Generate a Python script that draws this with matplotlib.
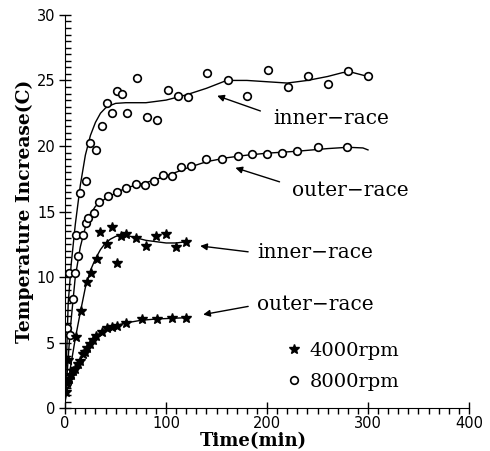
import numpy as np
import matplotlib.pyplot as plt
from matplotlib.lines import Line2D
from matplotlib.ticker import MultipleLocator

# 8000 rpm, inner race (measured points)
t_in8 = [2, 4, 11, 15, 21, 25, 31, 36, 41, 46, 51, 56, 61, 71, 81, 91, 102, 112, 122,
         141, 161, 180, 201, 221, 241, 260, 280, 300]
T_in8 = [6.1, 10.3, 13.2, 16.4, 17.3, 20.2, 19.7, 21.5, 23.3, 22.5, 24.2, 24.0, 22.5,
         25.2, 22.2, 22.0, 24.3, 23.8, 23.7, 25.6, 25.0, 23.8, 25.8, 24.5, 25.3, 24.7, 25.7, 25.3]
# 8000 rpm, outer race
t_out8 = [2, 5, 8, 10, 13, 18, 21, 23, 29, 34, 42, 51, 60, 70, 79, 88, 97, 106, 115, 125,
          140, 155, 171, 185, 200, 215, 230, 250, 279]
T_out8 = [1.9, 5.6, 8.3, 10.3, 11.6, 13.2, 14.1, 14.5, 14.9, 15.7, 16.2, 16.5, 16.8, 17.1,
          17.0, 17.3, 17.8, 17.7, 18.4, 18.5, 19.0, 19.0, 19.2, 19.4, 19.4, 19.5, 19.6, 19.9, 19.9]
# 4000 rpm, inner race
t_in4 = [3, 11, 16, 22, 26, 32, 35, 41, 46, 51, 55, 60, 70, 80, 90, 100, 110, 120]
T_in4 = [3.7, 5.4, 7.4, 9.6, 10.3, 11.4, 13.4, 12.5, 13.8, 11.1, 13.1, 13.3, 13.0, 12.4,
         13.1, 13.3, 12.3, 12.7]
# 4000 rpm, outer race
t_out4 = [1, 2, 4, 6, 8, 10, 13, 15, 18, 20, 22, 25, 28, 31, 36, 41, 46, 51, 60, 76, 91, 106, 120]
T_out4 = [1.2, 1.9, 2.2, 2.5, 2.8, 3.0, 3.4, 3.6, 4.1, 4.3, 4.6, 4.9, 5.2, 5.5, 5.8, 6.1,
          6.2, 6.3, 6.5, 6.8, 6.8, 6.9, 6.9]

# fitted curves
ct_in8 = [0, 3, 6, 10, 15, 20, 25, 30, 35, 40, 45, 50, 60, 80, 100, 120, 140, 160, 180,
          200, 220, 240, 260, 275, 285, 300]
cT_in8 = [0.5, 8.0, 11.0, 14.0, 17.0, 19.3, 20.8, 21.8, 22.5, 22.9, 23.1, 23.25, 23.3,
          23.3, 23.5, 23.9, 24.4, 25.0, 25.0, 24.9, 24.8, 25.0, 25.3, 25.6, 25.6, 25.3]
ct_out8 = [0, 5, 10, 15, 20, 25, 30, 40, 50, 60, 80, 100, 120, 140, 160, 180, 200, 230,
           260, 280, 295, 300]
cT_out8 = [0.5, 6.0, 10.0, 12.3, 13.8, 14.8, 15.4, 16.0, 16.4, 16.8, 17.2, 17.7, 18.3,
           18.8, 19.1, 19.3, 19.45, 19.6, 19.8, 19.9, 19.85, 19.7]
ct_in4 = [0, 5, 10, 15, 20, 25, 30, 35, 40, 45, 50, 55, 60, 70, 80, 90, 100, 110, 120]
cT_in4 = [0.5, 3.0, 5.3, 7.3, 9.2, 10.5, 11.4, 12.1, 12.6, 12.9, 13.1, 13.2, 13.2, 13.0,
          12.8, 12.7, 12.6, 12.6, 12.7]
ct_out4 = [0, 5, 10, 15, 20, 25, 30, 35, 40, 50, 60, 75, 90, 105, 120]
cT_out4 = [0.8, 2.2, 3.0, 3.7, 4.3, 4.9, 5.4, 5.8, 6.0, 6.3, 6.5, 6.7, 6.8, 6.85, 6.9]

SERIF = ['DejaVu Serif']

fig = plt.figure(figsize=(4.9, 4.51), dpi=100)
ax = fig.add_axes([0.133, 0.095, 0.824, 0.872])

for ct, cT in [(ct_in8, cT_in8), (ct_out8, cT_out8), (ct_in4, cT_in4), (ct_out4, cT_out4)]:
    ax.plot(ct, cT, color='black', lw=1.0)

circ = dict(marker='o', ms=5.5, mfc='white', mec='black', mew=1.2, ls='none')
star = dict(marker='*', ms=7.5, mfc='black', mec='black', ls='none')
ax.plot(t_in8, T_in8, **circ)
ax.plot(t_out8, T_out8, **circ)
ax.plot(t_in4, T_in4, **star)
ax.plot(t_out4, T_out4, **star)

ax.set_xlim(0, 400)
ax.set_ylim(0, 30)
ax.xaxis.set_major_locator(MultipleLocator(100))
ax.xaxis.set_minor_locator(MultipleLocator(10))
ax.yaxis.set_major_locator(MultipleLocator(5))
ax.yaxis.set_minor_locator(MultipleLocator(0.5))
ax.spines['top'].set_visible(False)
ax.spines['right'].set_visible(False)
ax.tick_params(axis='x', which='major', direction='inout', length=8, width=1, pad=2)
ax.tick_params(axis='x', which='minor', direction='out', length=4, width=1)
ax.tick_params(axis='y', which='major', direction='inout', length=8, width=1, pad=3)
ax.tick_params(axis='y', which='minor', direction='in', length=4, width=1)
ax.tick_params(labelsize=10.5)

ax.set_xlabel('Time(min)', family=SERIF, fontweight='bold', fontsize=13)
ax.set_ylabel('Temperature Increase(C)', family=SERIF, fontweight='bold', fontsize=13.5)
ax.xaxis.set_label_coords(0.465, -0.062)
ax.yaxis.set_label_coords(-0.078, 0.5)

arrow = dict(arrowstyle='-|>', color='black', lw=1.0, mutation_scale=10)
notes = [
    ('inner\u2212race', (148, 23.9), (196, 22.6), (206, 22.1)),
    ('outer\u2212race', (166, 18.4), (215, 17.2), (225, 16.6)),
    ('inner\u2212race', (131, 12.4), (184, 11.9), (190, 11.9)),
    ('outer\u2212race', (134, 7.1), (184, 7.8), (190, 7.9)),
]
for label, head, tail, txt in notes:
    ax.annotate('', xy=head, xytext=tail, arrowprops=arrow)
    ax.text(txt[0], txt[1], label, family=SERIF, fontsize=14.5, va='center', ha='left')

handles = [Line2D([], [], **star), Line2D([], [], **circ)]
ax.legend(handles, ['4000rpm', '8000rpm'], loc='lower left', bbox_to_anchor=(0.5, 0.0),
          frameon=False, handletextpad=0.3, handlelength=1.0, labelspacing=0.65,
          prop={'family': SERIF, 'size': 14})

fig.savefig('out.png', dpi=100)
